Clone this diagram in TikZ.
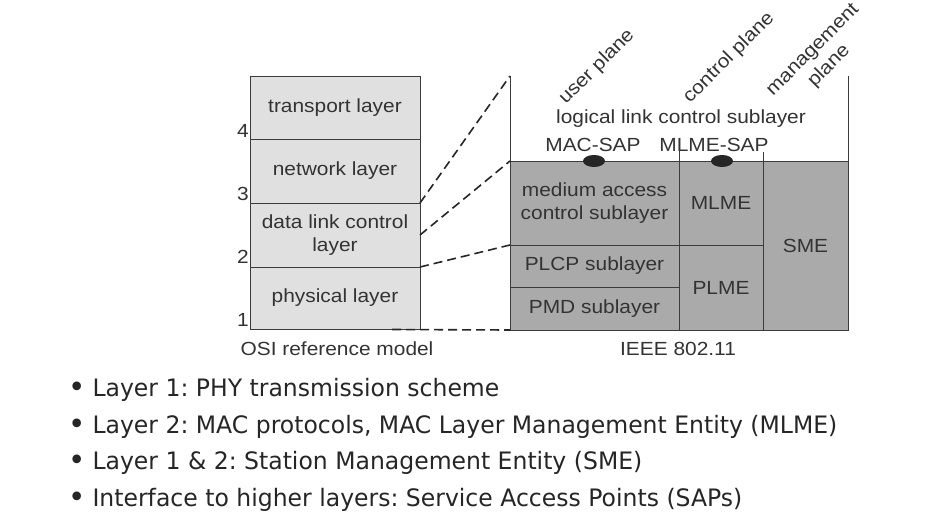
\documentclass[tikz,border=0pt]{standalone}
\usepackage{fontspec}
\usetikzlibrary{shapes.geometric}
\newfontfamily\dfont[FakeStretch=1.1]{Liberation Sans}
\newfontfamily\bfont[FakeStretch=0.98]{DejaVu Sans}
\definecolor{txt}{HTML}{333333}
\definecolor{edge}{HTML}{3C3C3C}
\definecolor{lightfill}{HTML}{E0E0E0}
\definecolor{darkfill}{HTML}{AAAAAA}
\newcommand{\bigbul}{\raisebox{-0.5pt}{\fontsize{30}{28}\selectfont\textbullet}\hspace{7pt}}
\begin{document}
\begin{tikzpicture}[x=1pt,y=-1pt,
  lbl/.style={font=\dfont\fontsize{19}{23}\selectfont, text=txt, align=center, inner sep=0pt},
  osibox/.style={draw=edge, line width=1pt, fill=lightfill, minimum width=170pt, inner sep=0pt, outer sep=0pt, lbl},
  ieeebox/.style={draw=edge, line width=1pt, fill=darkfill, inner sep=0pt, outer sep=0pt, lbl},
  zoomline/.style={draw=black!85, line width=1.6pt, dash pattern=on 9pt off 5pt},
  plane/.style={draw=edge, line width=1pt},
  sap/.style={ellipse, fill=black!85, minimum width=22pt, minimum height=12pt, inner sep=0pt},
  num/.style={lbl, anchor=south east},
  bullet/.style={font=\bfont\fontsize{24}{28}\selectfont\frenchspacing, text=black!85, anchor=west, inner sep=0pt}]
\useasboundingbox (0,0) rectangle (927,522);
\fill[white] (0,0) rectangle (927,522);

% OSI stack
\node[osibox, minimum height=63pt] (tl) at (335,107.5) {transport layer};
\node[osibox, minimum height=64pt] (nl) at (335,171) {network layer};
\node[osibox, minimum height=64pt] (dl) at (335,235) {data link control\\layer};
\node[osibox, minimum height=62pt] (pl) at (335,298) {physical layer};
\node[num] (n4) at (249,138) {4};
\node[num] (n3) at (249,201) {3};
\node[num] (n2) at (249,264) {2};
\node[num] (n1) at (249,327) {1};
\node[lbl] (osi) at (337,349) {OSI reference model};

% IEEE 802.11 block
\node[ieeebox, minimum width=169pt, minimum height=84pt] (mac) at (594.5,203) {medium access\\control sublayer};
\node[ieeebox, minimum width=169pt, minimum height=42pt] (plcp) at (594.5,266) {PLCP sublayer};
\node[ieeebox, minimum width=169pt, minimum height=43pt] (pmd) at (594.5,308.5) {PMD sublayer};
\node[ieeebox, minimum width=84pt, minimum height=84pt] (mlme) at (721,203) {MLME};
\node[ieeebox, minimum width=84pt, minimum height=85pt] (plme) at (721,287.5) {PLME};
\node[ieeebox, minimum width=85pt, minimum height=169pt] (sme) at (805.5,245.5) {SME};
\node[lbl] (ieee) at (678,349) {IEEE 802.11};

% plane boundaries
\coordinate (upTop) at (510,76);
\coordinate (mgTop) at (848,76);
\coordinate (ctlTop) at (679,150);
\coordinate (ctlTop2) at (763,152);
\draw[plane] (upTop) -- (mac.north west);
\draw[plane] (mgTop) -- (sme.north east);
\draw[plane] (ctlTop) -- (mac.north east);
\draw[plane] (ctlTop2) -- (mlme.north east);

\node[lbl] (llc) at (681,119) {logical link control sublayer};
\node[lbl] (macsapl) at (593,145) {MAC-SAP};
\node[lbl] (mlmesapl) at (714,145) {MLME-SAP};
\node[sap] (macsap) at (594,161) {};
\node[sap] (mlmesap) at (722,161) {};

\node[lbl, rotate=45] (up) at (597,67) {user plane};
\node[lbl, rotate=45] (cp) at (729,58) {control plane};
\node[lbl, rotate=45] (mp) at (821.5,58.5) {management\\plane};

% zoom lines
\coordinate (botStart) at (392,329.5);
\draw[zoomline] (dl.north east) -- (upTop);
\draw[zoomline] (dl.east) -- (mac.north west);
\draw[zoomline] (dl.south east) -- (mac.south west);
\draw[zoomline] (botStart) -- (pmd.south west);

% bullets
\node[bullet] (b1) at (68,390) {\bigbul Layer 1: PHY transmission scheme};
\node[bullet] (b2) at (68,427) {\bigbul Layer 2: MAC protocols, MAC Layer Management Entity (MLME)};
\node[bullet] (b3) at (68,463) {\bigbul Layer 1 \& 2: Station Management Entity (SME)};
\node[bullet] (b4) at (68,500) {\bigbul Interface to higher layers: Service Access Points (SAPs)};
\end{tikzpicture}
\end{document}
